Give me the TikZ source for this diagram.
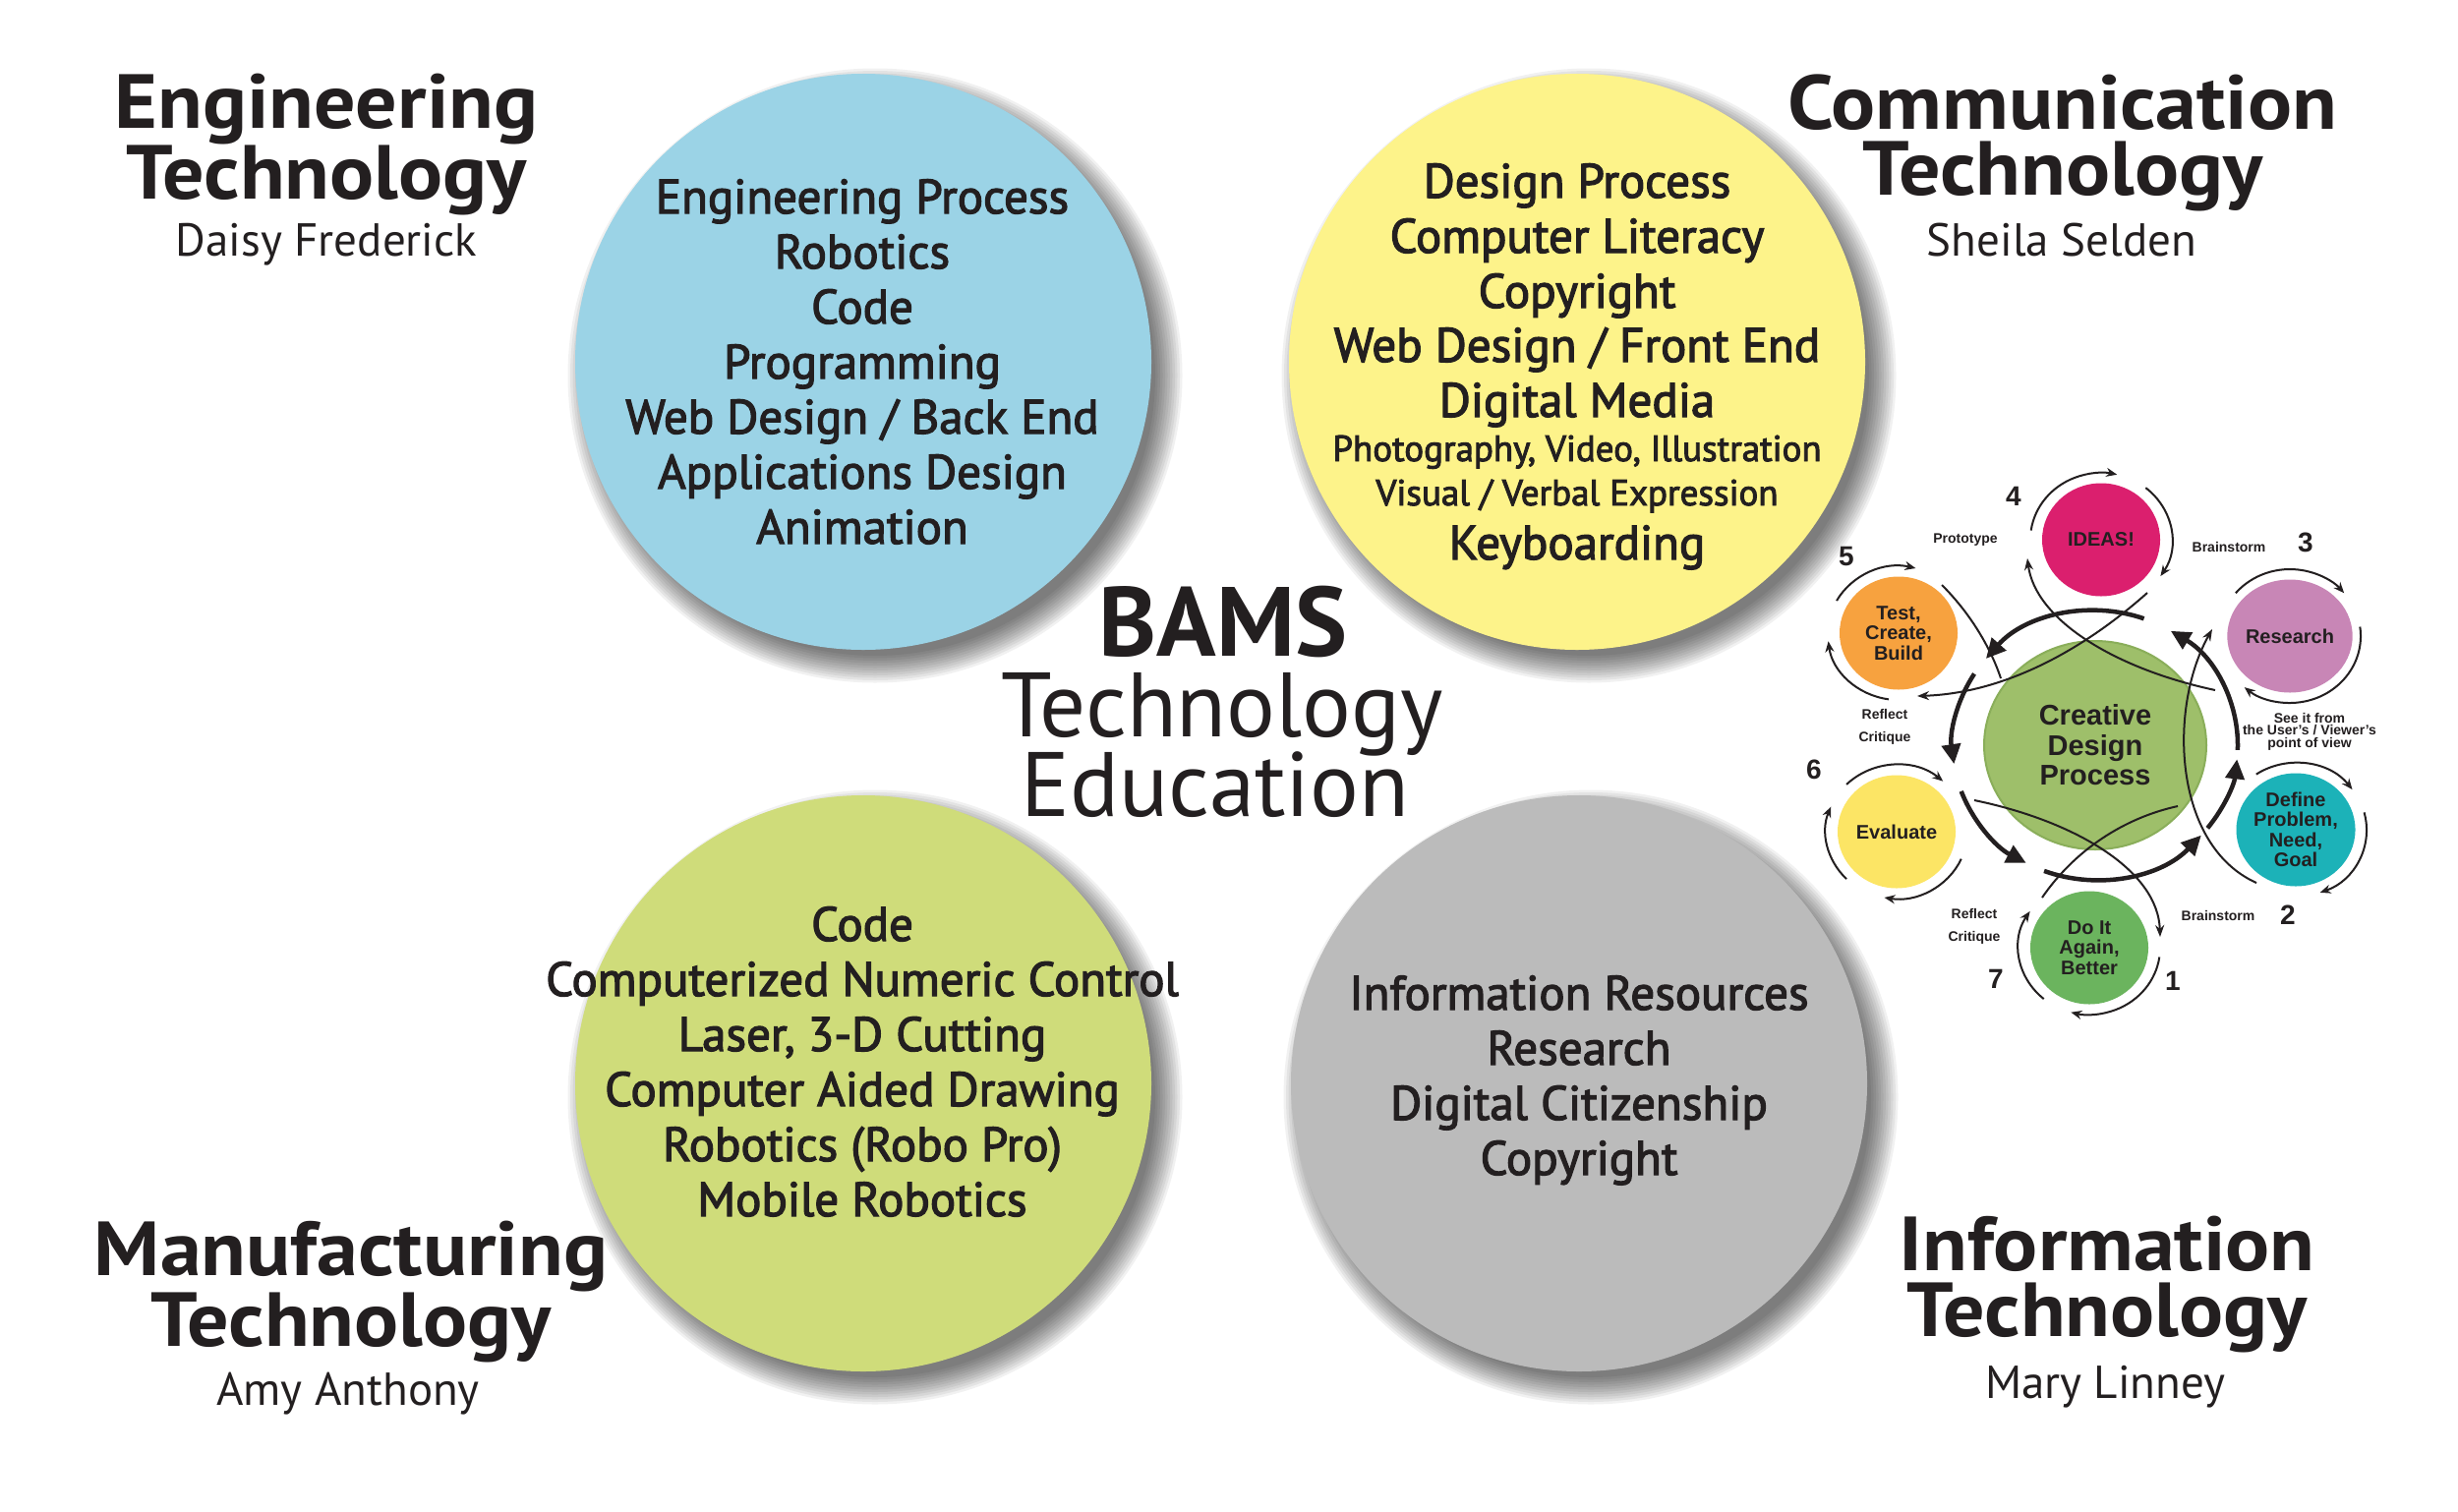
\documentclass[tikz,border=0pt]{standalone}
\usepackage{fontspec}
\setmainfont{PT Sans}
\newfontfamily\itemfont[FakeBold=2.5]{PT Sans}
\newfontfamily\headfont[FakeStretch=1.077]{PT Sans}
\newfontfamily\cyclefont{Liberation Sans}
\usetikzlibrary{arrows.meta,shapes.geometric}
\definecolor{ink}{HTML}{231F20}
\definecolor{cblue}{HTML}{9BD3E6}
\definecolor{cyellow}{HTML}{FDF38A}
\definecolor{clime}{HTML}{CFDC7A}
\definecolor{cgray}{HTML}{BBBBBB}
\definecolor{cideas}{HTML}{DB1F6E}
\definecolor{cresearch}{HTML}{C886B6}
\definecolor{cdefine}{HTML}{1CB2B8}
\definecolor{cdoit}{HTML}{6BB45E}
\definecolor{ceval}{HTML}{FCE565}
\definecolor{ctest}{HTML}{F7A23F}
\definecolor{ccentral}{HTML}{9EBF6A}
\definecolor{ccentraledge}{HTML}{8AAE5A}
\newcommand\circshadow[2]{%
  \foreach \k in {0,...,11}{\fill[black,opacity=0.055] (#1+12,#2-14) circle[radius=285+2.5*\k];}}
\begin{document}
\begin{tikzpicture}[x=1pt,y=1pt,
  txt/.style={text=ink, inner sep=0pt},
  headline/.style={txt, align=center, font=\headfont\bfseries\fontsize{78}{67}\selectfont},
  person/.style={txt, anchor=base, font=\fontsize{47}{50}\selectfont},
  bigcirc/.style={circle, minimum size=586pt, inner sep=0pt},
  item/.style={txt, anchor=base, font=\itemfont\fontsize{49}{56}\selectfont},
  smallitem/.style={txt, anchor=base, font=\itemfont\fontsize{37}{42}\selectfont},
  stage/.style={ellipse, minimum width=120pt, minimum height=115pt, inner sep=0pt,
     text=ink, align=center, font=\cyclefont\bfseries\fontsize{20}{20.5}\selectfont},
  num/.style={txt, font=\cyclefont\bfseries\fontsize{28}{28}\selectfont},
  lab/.style={txt, align=center, font=\cyclefont\bfseries\fontsize{14}{23}\selectfont},
  sarc/.style={line width=2pt, draw=ink, -{Stealth[length=11pt,width=9pt]}},
  ringarc/.style={line width=4.5pt, draw=ink, -{Triangle[length=20pt,width=19pt]}},
  thin/.style={line width=2pt, draw=ink},
  thinarrow/.style={thin, -{Stealth[length=12pt,width=9pt]}}
]
\useasboundingbox (0,0) rectangle (2500,-1537);
\fill[white] (0,0) rectangle (2500,-1537);

% ---- shadows and big circles
\circshadow{878}{-368}
\circshadow{1604}{-368}
\circshadow{878}{-1102}
\circshadow{1606}{-1102}
\node[bigcirc, fill=cblue]   (eng)  at (878,-368)  {};
\node[bigcirc, fill=cyellow] (com)  at (1604,-368) {};
\node[bigcirc, fill=clime]   (man)  at (878,-1102) {};
\node[bigcirc, fill=cgray]   (inf)  at (1606,-1102) {};

% ---- circle contents
\foreach \t [count=\i] in {Engineering Process, Robotics, Code, Programming,
   Web Design / Back End, Applications Design, Animation}
  \node[item] (e\i) at (877,{-217-56*(\i-1)}) {\t};

\node[item] (c1) at (1604,-201) {Design Process};
\node[item] (c2) at (1604,-257) {Computer Literacy};
\node[item] (c3) at (1604,-313) {Copyright};
\node[item] (c4) at (1604,-368) {Web Design / Front End};
\node[item] (c5) at (1604,-424) {Digital Media};
\node[smallitem] (c6) at (1604,-469) {Photography, Video, Illustration};
\node[smallitem] (c7) at (1604,-514) {Visual / Verbal Expression};
\node[item] (c8) at (1604,-569) {Keyboarding};

\foreach \t [count=\i] in {Code, Computerized Numeric Control, {Laser, 3-D Cutting},
   Computer Aided Drawing, Robotics (Robo Pro), Mobile Robotics}
  \node[item] (m\i) at (877,{-957-56*(\i-1)}) {\t};

\foreach \t [count=\i] in {Information Resources, Research, Digital Citizenship, Copyright}
  \node[item] (i\i) at (1606,{-1027-56*(\i-1)}) {\t};

% ---- headings
\node[headline] (engA) at (332,-147) {Engineering\\Technology};
\node[person]   (engC) at (332,-260) {Daisy Frederick};

\node[headline] (comA) at (2098,-145) {Communication\\Technology};
\node[person]   (comC) at (2097,-260) {Sheila Selden};

\node[headline] (manA) at (357,-1314) {Manufacturing\\Technology};
\node[person]   (manC) at (354,-1429) {Amy Anthony};

\node[headline] (infA) at (2143,-1307) {Information\\Technology};
\node[person]   (infC) at (2141,-1422) {Mary Linney};

% ---- centre title
\node[txt, anchor=base, font=\bfseries\fontsize{100}{100}\selectfont] (bams) at (1244,-667) {BAMS};
\node[txt, anchor=base, font=\fontsize{93}{93}\selectfont] (tech) at (1243,-749) {Technology};
\node[txt, anchor=base, font=\fontsize{93}{93}\selectfont] (edu) at (1236,-830) {Education};

% ---- creative design process cycle
\node[ellipse, minimum width=226pt, minimum height=212pt, inner sep=0pt,
      fill=ccentral, draw=ccentraledge, line width=2pt, text=ink, align=center,
      font=\cyclefont\bfseries\fontsize{29}{30.5}\selectfont] (cdp) at (2131,-758)
      {Creative\\Design\\Process};
\node[stage, fill=cideas]    (ideas)    at (2137,-549) {IDEAS!};
\node[stage, fill=cresearch] (research) at (2329,-647) {Research};
\node[stage, fill=cdefine]   (define)   at (2335,-844) {Define\\Problem,\\Need,\\Goal};
\node[stage, fill=cdoit]     (doit)     at (2125,-964) {Do It\\Again,\\Better};
\node[stage, fill=ceval]     (evaluate) at (1929,-846) {Evaluate};
\node[stage, fill=ctest]     (test)     at (1931,-644) {Test,\\Create,\\Build};

% small arcs around stages
\draw[sarc] (ideas.center) ++(172:72pt and 68pt) arc[start angle=172,end angle=77,x radius=72pt,y radius=68pt];
\draw[sarc] (ideas.center) ++(51:72pt and 68pt) arc[start angle=51,end angle=-33,x radius=72pt,y radius=68pt];
\draw[sarc] (research.center) ++(140:72pt and 68pt) arc[start angle=140,end angle=40,x radius=72pt,y radius=68pt];
\draw[sarc] (research.center) ++(8:72pt and 68pt) arc[start angle=8,end angle=-130,x radius=72pt,y radius=68pt];
\draw[sarc] (define.center) ++(124:72pt and 68pt) arc[start angle=124,end angle=37,x radius=72pt,y radius=68pt];
\draw[sarc] (define.center) ++(15:72pt and 68pt) arc[start angle=15,end angle=-70,x radius=72pt,y radius=68pt];
\draw[sarc] (doit.center) ++(230:72pt and 68pt) arc[start angle=230,end angle=147,x radius=72pt,y radius=68pt];
\draw[sarc] (doit.center) ++(-8:72pt and 68pt) arc[start angle=-8,end angle=-105,x radius=72pt,y radius=68pt];
\draw[sarc] (evaluate.center) ++(135:72pt and 68pt) arc[start angle=135,end angle=49,x radius=72pt,y radius=68pt];
\draw[sarc] (evaluate.center) ++(-24:72pt and 68pt) arc[start angle=-24,end angle=-100,x radius=72pt,y radius=68pt];
\draw[sarc] (evaluate.center) ++(225:72pt and 68pt) arc[start angle=225,end angle=158,x radius=72pt,y radius=68pt];
\draw[sarc] (test.center) ++(151:72pt and 68pt) arc[start angle=151,end angle=76,x radius=72pt,y radius=68pt];
\draw[sarc] (test.center) ++(262:72pt and 68pt) arc[start angle=262,end angle=187,x radius=72pt,y radius=68pt];

% thick ring arcs around the centre
\draw[ringarc] (cdp.center) ++(70:145pt and 137pt) arc[start angle=70,end angle=140,x radius=145pt,y radius=137pt];
\draw[ringarc] (cdp.center) ++(148:145pt and 137pt) arc[start angle=148,end angle=188,x radius=145pt,y radius=137pt];
\draw[ringarc] (cdp.center) ++(200:145pt and 137pt) arc[start angle=200,end angle=241,x radius=145pt,y radius=137pt];
\draw[ringarc] (cdp.center) ++(249:145pt and 137pt) arc[start angle=249,end angle=318,x radius=145pt,y radius=137pt];
\draw[ringarc] (cdp.center) ++(322:145pt and 137pt) arc[start angle=322,end angle=354,x radius=145pt,y radius=137pt];
\draw[ringarc] (cdp.center) ++(358:145pt and 137pt) arc[start angle=358,end angle=418,x radius=145pt,y radius=137pt];

% thin crossing curves
\coordinate (t1a) at (1975,-595);  \coordinate (t1b) at (2035,-690);
\coordinate (t2a) at (2184,-603);  \coordinate (t2b) at (1950,-708);
\coordinate (t3a) at (2253,-702);  \coordinate (t3b) at (2062,-568);
\coordinate (t4a) at (2295,-898);  \coordinate (t4b) at (2250,-640);
\coordinate (t5a) at (2008,-814);  \coordinate (t5b) at (2197,-953);
\coordinate (t6a) at (2077,-913);  \coordinate (t6b) at (2215,-820);
\draw[thin] (t1a) .. controls (2005,-625) and (2025,-660) .. (t1b);
\draw[thinarrow] (t2a) .. controls (2120,-660) and (2040,-705) .. (t2b);
\draw[thinarrow] (t3a) .. controls (2150,-680) and (2070,-630) .. (t3b);
\draw[thinarrow] (t4a) .. controls (2210,-860) and (2205,-720) .. (t4b);
\draw[thinarrow] (t5a) .. controls (2110,-835) and (2195,-885) .. (t5b);
\draw[thin] (t6a) .. controls (2110,-865) and (2160,-832) .. (t6b);

% numbers and labels
\node[num] (n4) at (2048,-505) {4};
\node[num] (n3) at (2345,-552) {3};
\node[num] (n5) at (1878,-566) {5};
\node[num] (n6) at (1845,-783) {6};
\node[num] (n2) at (2327,-931) {2};
\node[num] (n1) at (2210,-998) {1};
\node[num] (n7) at (2030,-996) {7};
\node[lab] (lproto) at (1999,-549) {Prototype};
\node[lab] (lbrain1) at (2267,-556) {Brainstorm};
\node[lab] (lrefl1) at (1917,-739) {Reflect\\Critique};
\node[lab, font=\cyclefont\bfseries\fontsize{14}{12.5}\selectfont] (lsee) at (2349,-744)
   {See it from\\the User’s / Viewer’s\\point of view};
\node[lab] (lrefl2) at (2008,-942) {Reflect\\Critique};
\node[lab] (lbrain2) at (2256,-931) {Brainstorm};
\end{tikzpicture}
\end{document}
